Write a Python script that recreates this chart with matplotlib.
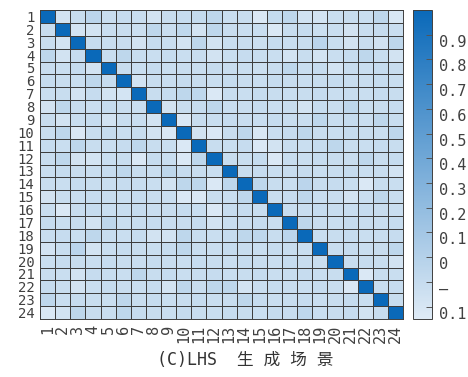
import numpy as np
import matplotlib
matplotlib.use("Agg")
import matplotlib.pyplot as plt
from matplotlib.colors import LinearSegmentedColormap

plt.rcParams['font.family'] = ['DejaVu Sans Mono', 'Noto Sans CJK SC']

scenarios = [str(i) for i in range(1, 25)]
cbar_ticks = [0.9, 0.8, 0.7, 0.6, 0.5, 0.4, 0.3, 0.2, 0.1, 0.0, -0.1, -0.2]
cbar_labels = ['0.9', '0.8', '0.7', '0.6', '0.5', '0.4', '0.3', '0.2', '0.1', '0', '–', '0.1']
xlabel_text = "(C)LHS  生 成 场 景"

corr = [
 [1.00,-0.17,-0.11,-0.04,-0.12,-0.10,-0.12,-0.17,-0.11,-0.10,-0.09,-0.05,-0.12,-0.11,-0.22,-0.09,-0.05,-0.16,-0.17,-0.12,-0.11,-0.12,-0.05,-0.21],
 [-0.11,1.00,-0.18,-0.17,-0.12,-0.11,-0.13,-0.05,-0.12,-0.06,-0.17,-0.05,-0.11,-0.12,-0.12,-0.22,-0.11,-0.10,-0.13,-0.12,-0.17,-0.11,-0.10,-0.12],
 [-0.12,-0.18,1.00,-0.10,-0.12,-0.11,-0.17,-0.10,-0.12,-0.18,-0.05,-0.17,-0.12,-0.11,-0.13,-0.10,-0.12,-0.11,-0.04,-0.12,-0.17,-0.11,-0.16,-0.05],
 [-0.05,-0.17,-0.10,1.00,-0.12,-0.05,-0.11,-0.12,-0.10,-0.12,-0.11,-0.17,-0.12,-0.10,-0.11,-0.12,-0.17,-0.11,-0.17,-0.12,-0.10,-0.05,-0.11,-0.17],
 [-0.11,-0.12,-0.10,-0.17,1.00,-0.11,-0.12,-0.10,-0.12,-0.11,-0.12,-0.10,-0.11,-0.12,-0.13,-0.11,-0.05,-0.12,-0.10,-0.17,-0.11,-0.12,-0.10,-0.11],
 [-0.10,-0.11,-0.12,-0.05,-0.10,1.00,-0.17,-0.11,-0.12,-0.10,-0.11,-0.12,-0.10,-0.11,-0.12,-0.10,-0.11,-0.12,-0.11,-0.10,-0.12,-0.11,-0.10,-0.12],
 [-0.12,-0.11,-0.17,-0.10,-0.17,-0.18,1.00,-0.11,-0.10,-0.05,-0.06,-0.22,-0.11,-0.12,-0.10,-0.11,-0.12,-0.11,-0.10,-0.12,-0.11,-0.12,-0.10,-0.11],
 [-0.17,-0.05,-0.11,-0.12,-0.10,-0.11,-0.12,1.00,-0.17,-0.11,-0.10,-0.05,-0.12,-0.11,-0.10,-0.12,-0.11,-0.17,-0.10,-0.11,-0.05,-0.12,-0.11,-0.10],
 [-0.11,-0.17,-0.12,-0.10,-0.17,-0.11,-0.12,-0.17,1.00,-0.22,-0.11,-0.12,-0.10,-0.11,-0.12,-0.10,-0.11,-0.12,-0.05,-0.11,-0.10,-0.12,-0.05,-0.11],
 [-0.12,-0.05,-0.22,-0.11,-0.10,-0.12,-0.11,-0.17,-0.22,1.00,-0.17,-0.22,-0.11,-0.05,-0.21,-0.12,-0.10,-0.05,-0.11,-0.12,-0.10,-0.11,-0.12,-0.05],
 [-0.10,-0.12,-0.05,-0.11,-0.12,-0.10,-0.05,-0.11,-0.12,-0.22,1.00,-0.11,-0.12,-0.10,-0.22,-0.17,-0.11,-0.12,-0.10,-0.05,-0.11,-0.12,-0.10,-0.11],
 [-0.11,-0.05,-0.17,-0.18,-0.12,-0.11,-0.22,-0.10,-0.12,-0.22,-0.05,1.00,-0.11,-0.12,-0.10,-0.22,-0.11,-0.12,-0.10,-0.11,-0.12,-0.05,-0.11,-0.10],
 [-0.12,-0.10,-0.11,-0.12,-0.10,-0.05,-0.11,-0.12,-0.05,-0.10,-0.11,-0.12,1.00,-0.11,-0.10,-0.12,-0.11,-0.10,-0.12,-0.11,-0.10,-0.12,-0.11,-0.17],
 [-0.11,-0.12,-0.10,-0.11,-0.12,-0.10,-0.11,-0.12,-0.17,-0.05,-0.05,-0.22,-0.05,1.00,-0.05,-0.11,-0.12,-0.04,-0.11,-0.10,-0.12,-0.22,-0.11,-0.12],
 [-0.17,-0.11,-0.12,-0.10,-0.11,-0.12,-0.10,-0.11,-0.12,-0.22,-0.22,-0.11,-0.12,-0.05,1.00,-0.11,-0.10,-0.05,-0.12,-0.11,-0.17,-0.12,-0.05,-0.11],
 [-0.12,-0.22,-0.11,-0.10,-0.12,-0.11,-0.10,-0.12,-0.11,-0.10,-0.12,-0.22,-0.11,-0.10,-0.12,1.00,-0.11,-0.12,-0.10,-0.11,-0.12,-0.10,-0.11,-0.12],
 [-0.10,-0.12,-0.11,-0.17,-0.05,-0.12,-0.11,-0.10,-0.12,-0.11,-0.10,-0.17,-0.12,-0.11,-0.10,-0.12,1.00,-0.05,-0.11,-0.12,-0.10,-0.11,-0.12,-0.10],
 [-0.11,-0.10,-0.12,-0.05,-0.11,-0.12,-0.10,-0.17,-0.17,-0.05,-0.11,-0.12,-0.10,-0.05,-0.05,-0.11,-0.04,1.00,-0.12,-0.11,-0.10,-0.12,-0.11,-0.10],
 [-0.17,-0.11,-0.04,-0.17,-0.12,-0.10,-0.11,-0.12,-0.10,-0.05,-0.11,-0.12,-0.10,-0.11,-0.12,-0.10,-0.11,-0.12,1.00,-0.11,-0.10,-0.12,-0.11,-0.05],
 [-0.12,-0.10,-0.11,-0.12,-0.10,-0.11,-0.12,-0.10,-0.11,-0.12,-0.10,-0.11,-0.12,-0.10,-0.11,-0.12,-0.10,-0.11,-0.12,1.00,-0.11,-0.10,-0.12,-0.17],
 [-0.11,-0.12,-0.17,-0.10,-0.11,-0.12,-0.05,-0.11,-0.10,-0.12,-0.11,-0.10,-0.12,-0.11,-0.10,-0.12,-0.11,-0.10,-0.12,-0.11,1.00,-0.22,-0.11,-0.12],
 [-0.10,-0.11,-0.17,-0.12,-0.10,-0.11,-0.12,-0.10,-0.17,-0.05,-0.11,-0.05,-0.05,-0.18,-0.12,-0.10,-0.11,-0.12,-0.10,-0.11,-0.22,1.00,-0.12,-0.10],
 [-0.05,-0.12,-0.10,-0.11,-0.12,-0.05,-0.11,-0.10,-0.12,-0.11,-0.10,-0.12,-0.11,-0.05,-0.10,-0.12,-0.11,-0.10,-0.12,-0.11,-0.10,-0.12,1.00,-0.11],
 [-0.22,-0.17,-0.05,-0.11,-0.12,-0.05,-0.10,-0.11,-0.12,-0.10,-0.11,-0.12,-0.10,-0.11,-0.12,-0.10,-0.11,-0.05,-0.12,-0.11,-0.10,-0.17,-0.11,1.00],
]

cmap = LinearSegmentedColormap.from_list('lhs_blue', ['#dfebf6', '#0a69b9'])

W, H = 468, 377
fig = plt.figure(figsize=(W / 100, H / 100), dpi=100)
ax = fig.add_axes([40 / W, 1 - 319 / H, 363 / W, 309 / H])

data = np.array(corr)
n = data.shape[0]
mesh = ax.pcolormesh(np.arange(n + 1), np.arange(n + 1), data, cmap=cmap,
                     vmin=-0.25, vmax=1.0, edgecolors='#3e3e3e', linewidth=0.65)
ax.set_xlim(0, n)
ax.set_ylim(n, 0)
ax.set_xticks(np.arange(n) + 0.5)
ax.set_xticklabels(scenarios, rotation=90, va='top', ha='center', fontsize=11)
ax.set_yticks(np.arange(n) + 0.5)
ax.set_yticklabels(scenarios, fontsize=10)
ax.tick_params(length=0, labelcolor='#404040', pad=4)
for s in ax.spines.values():
    s.set_color('#3e3e3e')
    s.set_linewidth(0.7)
ax.set_xlabel(xlabel_text, fontsize=12, color='#333333', labelpad=6)
ax.xaxis.label.set_x(0.565)

cax = fig.add_axes([413 / W, 1 - 319 / H, 19 / W, 309 / H])
cb = fig.colorbar(mesh, cax=cax, ticks=cbar_ticks)
cb.set_ticklabels(cbar_labels)
cb.outline.set_edgecolor('#3e3e3e')
cb.outline.set_linewidth(0.7)
cax.tick_params(direction='in', length=4, width=0.7, color='#555555',
                labelsize=11, labelcolor='#404040', pad=5)
for lbl in cax.get_yticklabels():
    lbl.set_verticalalignment('top')

fig.savefig('out.png', dpi=100)
